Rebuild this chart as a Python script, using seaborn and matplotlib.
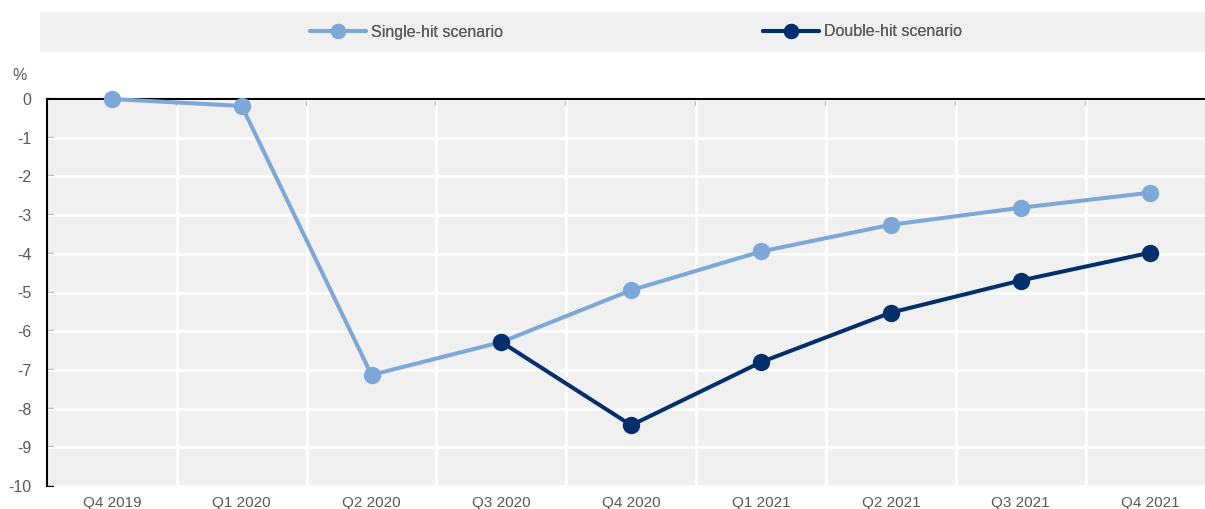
import numpy as np
import pandas as pd
import seaborn as sns
import matplotlib.pyplot as plt
from matplotlib.patches import Rectangle
from matplotlib.lines import Line2D

quarters = ["Q4 2019", "Q1 2020", "Q2 2020", "Q3 2020", "Q4 2020",
            "Q1 2021", "Q2 2021", "Q3 2021", "Q4 2021"]
single_hit = [0.0, -0.18, -7.13, -6.28, -4.94, -3.94, -3.25, -2.81, -2.42]
double_hit = [None, None, None, -6.28, -8.43, -6.80, -5.52, -4.69, -3.97]
y_ticks = list(range(0, -11, -1))

light = "#7da7d9"
dark = "#002f6c"
grey_txt = "#595959"

sns.set_theme(style="white")
plt.rcParams['font.family'] = ['Liberation Sans', 'DejaVu Sans']

rows = []
for i, q in enumerate(quarters):
    rows.append({"pos": i, "value": single_hit[i], "scenario": "Single-hit scenario"})
    if double_hit[i] is not None:
        rows.append({"pos": i, "value": double_hit[i], "scenario": "Double-hit scenario"})
df = pd.DataFrame(rows)

fig = plt.figure(figsize=(12.05, 5.09), dpi=100)
ax = fig.add_axes([47 / 1205, 1 - 486 / 509, 1 - 47 / 1205, 387 / 509])
ax.set_facecolor("#f0f0f0")

sns.lineplot(data=df, x="pos", y="value", hue="scenario",
             palette={"Single-hit scenario": light, "Double-hit scenario": dark},
             marker="o", markersize=12.5, markeredgewidth=0, linewidth=2.9,
             legend=False, ax=ax)
# markers sit on top of the zero spine, not clipped by it
for ln in ax.lines:
    ln.set_clip_on(False)
    ln.set_zorder(5)

ax.set_xlim(-0.5, 8.42)
ax.set_ylim(-10, 0)
ax.set_yticks(y_ticks)
ax.set_yticklabels([str(t) for t in y_ticks])
ax.set_xticks(range(len(quarters)))
ax.set_xticklabels(quarters)
ax.set_xticks(np.arange(0.5, len(quarters) - 1, 1), minor=True)
ax.set_xlabel("")
ax.set_ylabel("")

# gridlines: white, horizontal at every unit and vertical between quarters
for t in y_ticks:
    ax.axhline(t, color="white", lw=1.8, zorder=1)
for b in np.arange(0.5, len(quarters) - 1, 1):
    ax.axvline(b, color="white", lw=1.8, zorder=1)

for s in ["right", "bottom"]:
    ax.spines[s].set_visible(False)
for s in ["left", "top"]:
    ax.spines[s].set_color("black")
    ax.spines[s].set_linewidth(1.5)
    ax.spines[s].set_zorder(4)

ax.tick_params(axis="y", direction="in", length=5, width=1.5, color="black",
               labelsize=11.5, labelcolor=grey_txt, pad=11, left=True)
ax.tick_params(axis="x", which="major", bottom=False, top=False,
               labelsize=11, labelcolor=grey_txt, pad=1)
ax.tick_params(axis="x", which="minor", bottom=False, top=True, direction="in",
               length=5, width=1.5, color="black")

fig.text(20 / 1205, 1 - 76 / 509, "%", fontsize=11.5, color=grey_txt,
         ha="center", va="center")

# legend band
fig.patches.append(Rectangle((40 / 1205, 1 - 52 / 509), 1 - 40 / 1205, 40 / 509,
                             transform=fig.transFigure, facecolor="#f0f0f0",
                             edgecolor="none", zorder=0))
entries = [("Single-hit scenario", light, 310), ("Double-hit scenario", dark, 763)]
for label, col, xpix in entries:
    h = Line2D([], [], color=col, lw=2.9, marker="o", markersize=10)
    leg = fig.legend([h], [label], loc="center left",
                     bbox_to_anchor=(xpix / 1205, 1 - 32 / 509),
                     frameon=False, fontsize=11.5, labelcolor=grey_txt,
                     handlelength=3.5, handletextpad=0.35, borderaxespad=0,
                     borderpad=0)
    fig.add_artist(leg)

fig.savefig("out.png", dpi=100)
